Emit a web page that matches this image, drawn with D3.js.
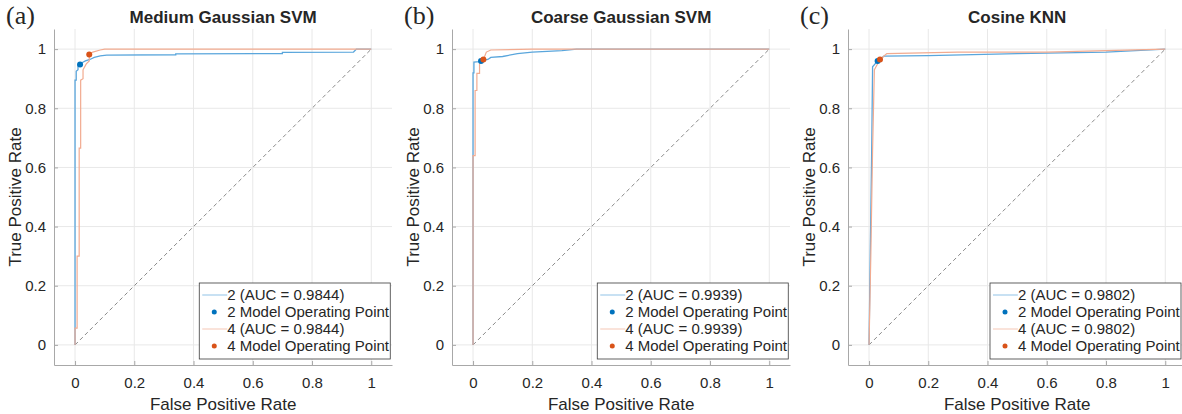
<!DOCTYPE html>
<html>
<head>
<meta charset="utf-8">
<script src="https://cdn.jsdelivr.net/npm/d3@7"></script>
<style>
  body { margin: 0; background: #fff; }
  svg text { font-family: "Liberation Sans", Arial, sans-serif; fill: #262626; }
  .panelLetter { font-family: "Liberation Serif", "Times New Roman", serif !important; font-size: 26px; }
  .title { font-weight: bold; font-size: 17px; }
  .tick text { font-size: 15px; }
  .axisLabel { font-size: 17px; }
  .legendText { font-size: 15px; }
</style>
</head>
<body>
<div id="d3"></div>
<script>
(function(){

  //chart data
  var panelLetters = ["(a)", "(b)", "(c)"];
  var panelTitles = ["Medium Gaussian SVM", "Coarse Gaussian SVM", "Cosine KNN"];
  var aucValues = ["0.9844", "0.9939", "0.9802"];
  var tickValues = [0, 0.2, 0.4, 0.6, 0.8, 1];
  var tickLabels = ["0", "0.2", "0.4", "0.6", "0.8", "1"];

  //roc curves for class 2 (blue), [fpr, tpr]
  var rocClass2 = [
    [[0,0],[0,0.895],[0.004,0.895],[0.004,0.925],[0.01,0.93],[0.01,0.945],[0.017,0.948],[0.025,0.955],[0.035,0.96],[0.05,0.965],[0.065,0.972],[0.085,0.977],[0.107,0.98],[0.34,0.981],[0.34,0.984],[0.7,0.985],[0.7,0.989],[0.94,0.99],[0.95,1],[1,1]],
    [[0,0],[0,0.92],[0.003,0.92],[0.003,0.956],[0.021,0.958],[0.027,0.96],[0.05,0.965],[0.06,0.972],[0.1,0.975],[0.15,0.985],[0.2,0.99],[0.3,0.995],[0.35,1],[1,1]],
    [[0,0],[0.004,0.3],[0.009,0.66],[0.012,0.94],[0.029,0.96],[0.05,0.976],[0.2,0.978],[0.5,0.985],[0.8,0.99],[1,1]]
  ];

  //roc curves for class 4 (orange)
  var rocClass4 = [
    [[0,0],[0,0.057],[0.007,0.057],[0.007,0.3],[0.014,0.3],[0.014,0.665],[0.019,0.665],[0.019,0.895],[0.027,0.9],[0.027,0.93],[0.038,0.95],[0.048,0.96],[0.048,0.982],[0.06,0.99],[0.085,0.997],[0.1,1],[1,1]],
    [[0,0],[0,0.64],[0.007,0.64],[0.007,0.86],[0.013,0.86],[0.013,0.918],[0.022,0.918],[0.022,0.95],[0.035,0.965],[0.045,0.99],[0.06,0.997],[0.2,1],[1,1]],
    [[0,0],[0.006,0.3],[0.012,0.66],[0.018,0.93],[0.037,0.965],[0.06,0.985],[0.3,0.99],[0.6,0.99],[1,1]]
  ];

  //model operating points
  var opPoint2 = [[0.017,0.948],[0.027,0.96],[0.029,0.96]];
  var opPoint4 = [[0.048,0.982],[0.035,0.965],[0.037,0.965]];

  var colors = {
    line2: "#5aa6dc", line4: "#f2ab90",
    dot2: "#0072BD", dot4: "#D95319"
  };

  //svg container
  var width = 1182, height = 414;
  var svg = d3.select("#d3").append("svg")
      .attr("width", width)
      .attr("height", height);

  var panelLefts = [54, 452, 848],
      plotWidth = 338,
      plotTop = 29,
      plotBottom = 365;

  panelLefts.forEach(function(left, i){
    drawPanel(i, left);
  });

  //one roc panel
  function drawPanel(i, left){
    var x = d3.scaleLinear().domain([-0.071, 1.07]).range([left, left + plotWidth]);
    var y = d3.scaleLinear().domain([-0.068, 1.068]).range([plotBottom, plotTop]);

    var g = svg.append("g");

    //grid lines
    g.selectAll(".gridX").data(tickValues).enter().append("line")
        .attr("x1", function(d){ return x(d); })
        .attr("x2", function(d){ return x(d); })
        .attr("y1", plotTop).attr("y2", plotBottom)
        .attr("stroke", "#e8e8e8").attr("stroke-width", 1);
    g.selectAll(".gridY").data(tickValues).enter().append("line")
        .attr("y1", function(d){ return y(d); })
        .attr("y2", function(d){ return y(d); })
        .attr("x1", left).attr("x2", left + plotWidth)
        .attr("stroke", "#e8e8e8").attr("stroke-width", 1);

    //axes, matlab style ticks pointing inward
    var xAxis = d3.axisBottom(x).tickValues(tickValues)
        .tickFormat(function(d, k){ return tickLabels[k]; })
        .tickSizeInner(-4).tickSizeOuter(0).tickPadding(12);
    var yAxis = d3.axisLeft(y).tickValues(tickValues)
        .tickFormat(function(d, k){ return tickLabels[k]; })
        .tickSizeInner(-4).tickSizeOuter(0).tickPadding(8);

    var ax = g.append("g").attr("class", "axis")
        .attr("transform", "translate(0," + plotBottom + ")")
        .call(xAxis);
    var ay = g.append("g").attr("class", "axis")
        .attr("transform", "translate(" + left + ",0)")
        .call(yAxis);
    [ax, ay].forEach(function(a){
      a.select(".domain").attr("stroke", "#a8a8a8");
      a.selectAll(".tick line").attr("stroke", "#a8a8a8");
    });

    //chance diagonal
    g.append("line")
        .attr("x1", x(0)).attr("y1", y(0))
        .attr("x2", x(1)).attr("y2", y(1))
        .attr("stroke", "#8a8a8a").attr("stroke-width", 1)
        .attr("stroke-dasharray", "4,3");

    var line = d3.line()
        .x(function(d){ return x(d[0]); })
        .y(function(d){ return y(d[1]); });

    //class 4 drawn last, on top
    g.append("path").datum(rocClass2[i])
        .attr("d", line).attr("fill", "none")
        .attr("stroke", colors.line2).attr("stroke-width", 1.3);
    g.append("path").datum(rocClass4[i])
        .attr("d", line).attr("fill", "none")
        .attr("stroke", colors.line4).attr("stroke-width", 1.2);

    //operating points
    g.append("circle")
        .attr("cx", x(opPoint2[i][0])).attr("cy", y(opPoint2[i][1]))
        .attr("r", 3).attr("fill", colors.dot2);
    g.append("circle")
        .attr("cx", x(opPoint4[i][0])).attr("cy", y(opPoint4[i][1]))
        .attr("r", 3).attr("fill", colors.dot4);

    //titles and labels
    g.append("text").attr("class", "panelLetter")
        .attr("x", left - 48).attr("y", 24)
        .text(panelLetters[i]);
    g.append("text").attr("class", "title")
        .attr("x", x(0.5)).attr("y", 23)
        .attr("text-anchor", "middle")
        .text(panelTitles[i]);
    g.append("text").attr("class", "axisLabel")
        .attr("x", x(0.5)).attr("y", 410)
        .attr("text-anchor", "middle")
        .text("False Positive Rate");
    g.append("text").attr("class", "axisLabel")
        .attr("transform", "translate(" + (left - 33) + "," + y(0.5) + ") rotate(-90)")
        .attr("text-anchor", "middle")
        .text("True Positive Rate");

    //legend box
    var legW = 191, legH = 76,
        legRight = Math.min(x(1) + 19, width - 1),
        legX = legRight - legW, legY = 283;
    var leg = g.append("g").attr("transform", "translate(" + legX + "," + legY + ")");
    leg.append("rect")
        .attr("width", legW).attr("height", legH)
        .attr("fill", "#fff").attr("stroke", "#3a3a3a").attr("stroke-width", 0.8);

    var items = [
      {type: "line", color: colors.line2, text: "2 (AUC = " + aucValues[i] + ")"},
      {type: "dot", color: colors.dot2, text: "2 Model Operating Point"},
      {type: "line", color: colors.line4, text: "4 (AUC = " + aucValues[i] + ")"},
      {type: "dot", color: colors.dot4, text: "4 Model Operating Point"}
    ];
    items.forEach(function(it, k){
      var cy = 12 + k * 17;
      if (it.type == "line"){
        leg.append("line")
            .attr("x1", 3).attr("x2", 28).attr("y1", cy).attr("y2", cy)
            .attr("stroke", it.color).attr("stroke-width", 1.2).attr("opacity", 0.55);
      } else {
        leg.append("circle").attr("cx", 15).attr("cy", cy).attr("r", 2.5).attr("fill", it.color);
      }
      leg.append("text").attr("class", "legendText")
          .attr("x", 28).attr("y", cy + 5)
          .text(it.text);
    });
  }

})();
</script>
</body>
</html>
